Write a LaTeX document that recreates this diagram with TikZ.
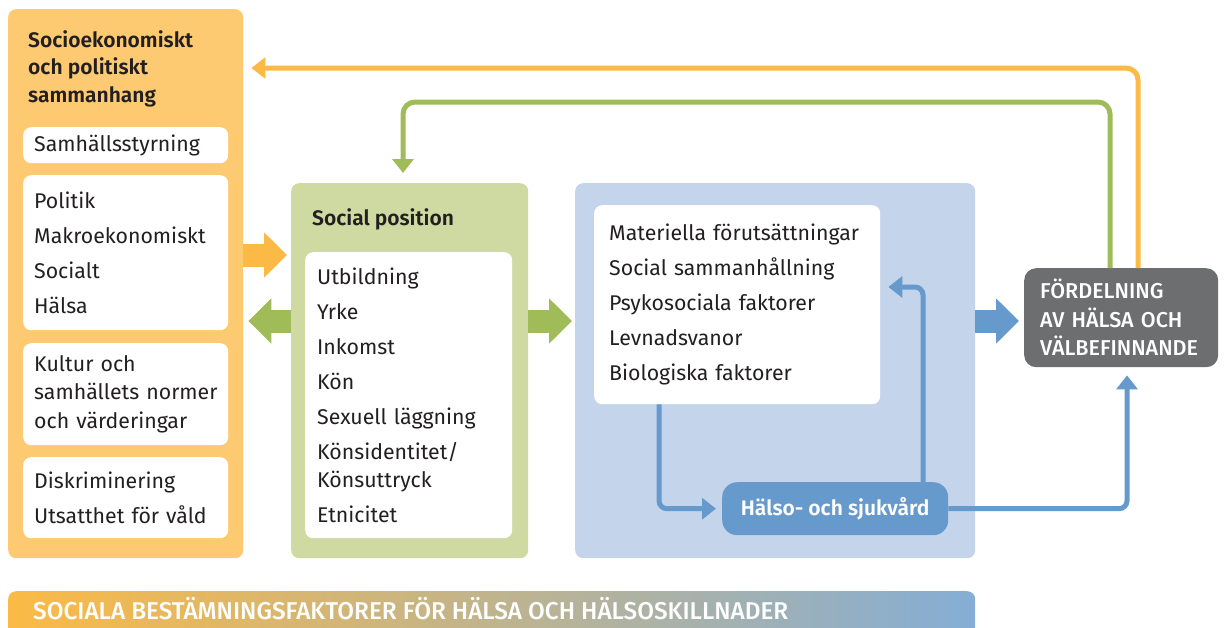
\documentclass[tikz,border=0pt]{standalone}
\usepackage{fontspec}
\setmainfont{Fira Sans}[BoldFont={Fira Sans SemiBold}]
\newfontfamily\medfont{Fira Sans Medium}
\usetikzlibrary{arrows.meta}
\usetikzlibrary{positioning}
\definecolor{orangebox}{HTML}{FDCA72}
\definecolor{orangeline}{HTML}{FBBA45}
\definecolor{greenbox}{HTML}{CFDAA3}
\definecolor{greenline}{HTML}{A0BC58}
\definecolor{bluebox}{HTML}{C4D4EB}
\definecolor{blueline}{HTML}{6699CC}
\definecolor{greybox}{HTML}{6D6E70}
\definecolor{ink}{HTML}{231F20}
\tikzstyle{panel} = [rectangle, rounded corners=8pt, anchor=north west, inner sep=0pt]
\tikzstyle{listbox} = [rectangle, rounded corners=8pt, fill=white, anchor=north west, align=left, inner xsep=11pt, inner ysep=0pt, text=ink, font=\fontsize{21.3}{28.5}\selectfont]
\tikzstyle{heading} = [anchor=north west, align=left, inner sep=0pt, text=ink, font=\bfseries\fontsize{21}{27.5}\selectfont]
\tikzstyle{bigarrow} = [line width=23pt, -{Triangle[length=23pt,width=44pt]}]
\tikzstyle{arrow} = [line width=5pt, rounded corners=12pt, -{Triangle[length=14pt,width=21pt]}]

\begin{document}
\begin{tikzpicture}[x=1pt, y=-1pt]
\path[use as bounding box, clip] (0,0) rectangle (1226,627);

\node [panel, fill=orangebox, minimum width=235pt, minimum height=549pt] (socio) at (8,9) {};
\node [heading] (sociotitle) at (28,30) {Socioekonomiskt\\och politiskt\\sammanhang};
\node [listbox, text width=183pt, minimum height=36pt] (governance) at (23,127) {Samhällsstyrning};
\node [listbox, text width=183pt, minimum height=155pt] (policy) at (23,175) {Politik\\[6.5pt]Makroekonomiskt\\[6.5pt]Socialt\\[6.5pt]Hälsa};
\node [listbox, text width=183pt, minimum height=102pt] (culture) at (23,343) {Kultur~och\\samhällets~normer\\och~värderingar};
\node [listbox, text width=183pt, minimum height=81pt] (discrim) at (23,457) {Diskriminering\\[6.5pt]Utsatthet för våld};

\node [panel, fill=greenbox, minimum width=237pt, minimum height=375pt] (socpos) at (291,183) {};
\node [heading, anchor=base west] (socpostitle) at (312,225) {Social position};
\node [listbox, text width=183pt, minimum height=286pt, inner xsep=12pt] (socposlist) at (305,252) {Utbildning\\[6.5pt]Yrke\\[6.5pt]Inkomst\\[6.5pt]Kön\\[6.5pt]Sexuell läggning\\[6.5pt]Könsidentitet/\\Könsuttryck\\[6.5pt]Etnicitet};

\node [panel, fill=bluebox, minimum width=400pt, minimum height=375pt] (circum) at (575,183) {};
\node [listbox, text width=256pt, minimum height=199pt, inner xsep=15pt] (circumlist) at (594,205) {Materiella förutsättningar\\[6.5pt]Social sammanhållning\\[6.5pt]Psykosociala faktorer\\[6.5pt]Levnadsvanor\\[6.5pt]Biologiska faktorer};
\node [panel, rounded corners=15pt, fill=blueline, minimum width=226pt, minimum height=53pt, text=white, font=\bfseries\fontsize{21}{24}\selectfont] (care) at (722,482) {Hälso- och sjukvård};

\node [panel, rounded corners=12pt, fill=greybox, minimum width=194pt, minimum height=99pt, text width=162pt, inner xsep=16pt, align=left, text=white, font=\medfont\fontsize{21.5}{28.5}\selectfont] (outcome) at (1024,268) {FÖRDELNING\\AV HÄLSA OCH\\VÄLBEFINNANDE};

\node [panel, left color=orangeline, middle color=greenline, right color=blueline!80!white, minimum width=967pt, minimum height=60pt] (banner) at (8,591) {};
\node [anchor=base west, inner sep=0pt, text=white, font=\medfont\fontsize{24.3}{28}\selectfont] (bannertext) at (33,619) {SOCIALA BESTÄMNINGSFAKTORER FÖR HÄLSA OCH HÄLSOSKILLNADER};

\coordinate (aO) at (0,255);
\coordinate (aG) at (0,321);
\coordinate (ofb) at (1138,68);
\coordinate (gfb) at (1110,102);
\coordinate (gx) at (403,102);
\coordinate (b1) at (659,0);
\coordinate (b2) at (923,287);
\coordinate (b3) at (1127,0);

\draw [bigarrow, orangeline, shorten >=4pt] (socio.east |- aO) -- (socpos.west |- aO);
\draw [bigarrow, greenline, shorten >=5pt] (socpos.west |- aG) -- (socio.east |- aG);
\draw [bigarrow, greenline, shorten >=3pt] (socpos.east |- aG) -- (circum.west |- aG);
\draw [bigarrow, blueline, shorten >=5pt] (circum.east |- aG) -- (outcome.west |- aG);

\draw [arrow, orangeline, shorten >=8pt] (outcome.north -| ofb) |- (socio.east |- ofb);
\draw [arrow, greenline, shorten >=10pt] (outcome.north -| gfb) |- (gx) -- (socpos.north -| gx);
\draw [arrow, blueline, rounded corners=8pt, shorten >=6pt] (circumlist.south -| b1) |- (care.west);
\draw [arrow, blueline, rounded corners=8pt, shorten >=8pt] (care.north -| b2) |- (circumlist.east |- b2);
\draw [arrow, blueline, rounded corners=8pt, shorten >=8pt] (care.east) -| (outcome.south -| b3);

\end{tikzpicture}
\end{document}
